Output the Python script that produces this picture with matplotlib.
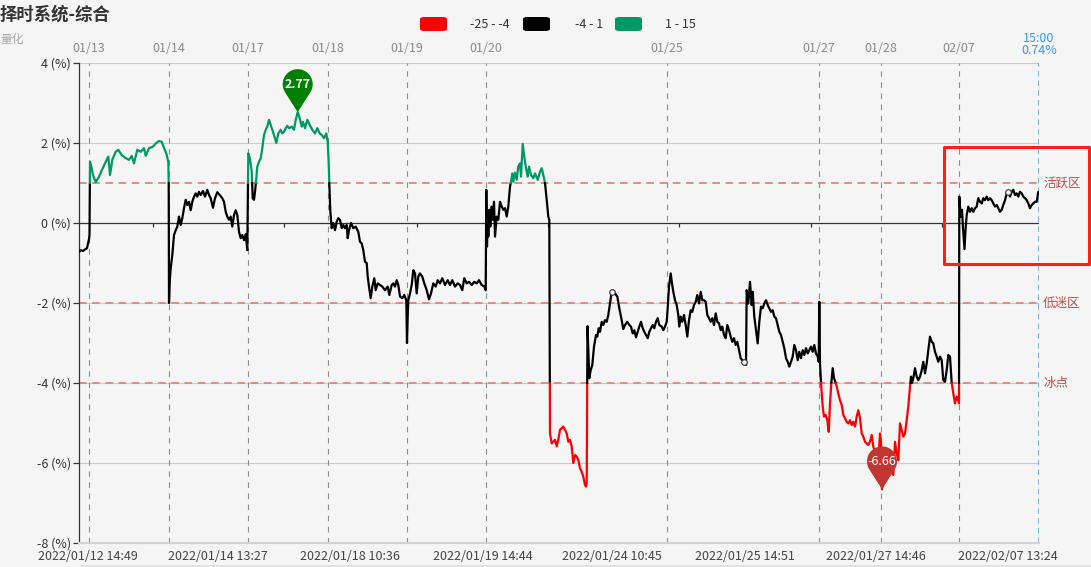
import numpy as np
import matplotlib
matplotlib.use("Agg")
import matplotlib.pyplot as plt
import matplotlib.transforms as mtransforms
from matplotlib.path import Path
from matplotlib.patches import PathPatch, Rectangle, FancyBboxPatch

plt.rcParams['font.family'] = ['Noto Sans CJK SC', 'DejaVu Sans']
plt.rcParams['lines.scale_dashes'] = False

# ---------------- data ----------------
title = "择时系统-综合"
unit_label = "量化"
legend_labels = ["-25 - -4", "-4 - 1", "1 - 15"]
legend_colors = ["#ff0000", "#000000", "#009966"]

idx = [0, 2, 4, 6, 8, 10, 10.5, 11, 12, 14, 16.7, 20, 23, 26.7, 29.3, 31, 33.3, 36.7, 39.3, 42.7,
       46.7, 50, 52.7, 55, 58.3, 61.7, 65, 66.7, 70, 74, 76.7, 80, 82.7, 85, 87.3, 89.3, 89.7, 90,
       90.7, 91.7, 93.3, 95, 96.7, 98.3, 100, 101.7, 103.3, 105, 106.7, 108.3, 110, 111.7, 113.3,
       115, 116.7, 118.3, 120, 121.7, 124, 126, 128.3, 130, 131.7, 134, 136, 138.3, 140.7, 143.3,
       145, 146.7, 148.3, 150, 151.7, 153.3, 155, 156.7, 158.3, 160, 161.7, 163.3, 165, 166.7,
       168.3, 169.3, 171, 172.7, 173.7, 175, 176, 177, 178.3, 180, 181.7, 183.3, 185, 186.7, 188.3,
       190, 191.7, 193.3, 195, 197.3, 199.3, 201.7, 203.3, 205, 206.7, 208.3, 210, 212.7, 215,
       216.7, 218.7, 220.7, 222.7, 224, 226, 228.3, 230.7, 233.3, 236, 238.3, 240.7, 242.7, 245,
       247.3, 248.7, 249.7, 250.3, 251.3, 252, 252.7, 254.3, 256, 257.7, 259.3, 261, 262.7, 264.3,
       266, 267.7, 268.7, 270, 272, 274.3, 276.7, 279.3, 281, 282.7, 284.3, 286, 287.7, 288.7, 290,
       291.7, 293.3, 295.3, 296.7, 298.7, 301, 303.3, 306, 308.7, 310.3, 312.7, 314.3, 316, 317.7,
       319.3, 321, 323.3, 325.3, 327.3, 328, 328.7, 329.3, 331, 332.7, 334.3, 336, 337.7, 339.3,
       341, 343.3, 345.3, 347.7, 350, 352, 354.3, 356.7, 358.7, 361, 363.3, 366, 368.7, 371,
       373.3, 376, 378.7, 381, 383.3, 385.3, 387.7, 390, 392.7, 395.3, 397.7, 400, 402.7, 405.3,
       406.7, 407.3, 408, 408.7, 409.3, 410.3, 411.3, 412.7, 413.7, 415, 416, 417.7, 419.3, 421,
       422.7, 424.3, 426, 427.7, 429.3, 431, 432, 433.3, 434.3, 436, 437.7, 439.3, 441, 442, 443.7,
       445.3, 447, 448.7, 450, 452, 454.3, 456, 458.7, 461, 462.7, 464.3, 466, 467.7, 469.3, 470.3,
       471, 472.7, 474.3, 476, 477.7, 479.3, 481, 482.7, 484.3, 486, 487.7, 489.3, 491, 492.7,
       494.3, 496, 497.7, 499.3, 501, 502.7, 504.3, 506, 507, 507.7, 508.5, 510.3, 511.7, 513.3,
       515, 517, 518.3, 519.7, 521, 522.7, 524.3, 526, 527.7, 529.3, 531, 532.7, 534.3, 536, 538.3,
       540.3, 542.7, 544.3, 546, 548.3, 550.3, 552, 553.7, 555.3, 557, 558.7, 560.3, 562, 563.7,
       565.3, 567, 568.7, 570.3, 572, 573.7, 575.3, 577, 578.7, 580.3, 582.7, 584.3, 586, 587.7,
       588.7, 590, 591.7, 593, 594.3, 596, 597.7, 599.3, 600.3, 601.7, 603.3, 605, 606.7, 608.3,
       610, 611.7, 613.3, 615, 616.7, 618.3, 620, 621.7, 623.3, 625, 626.7, 628.3, 630, 631.7,
       633.3, 635, 636.7, 638.3, 640, 641.7, 643.3, 645, 646.7, 648.3, 650, 651.7, 653.3, 655,
       656.7, 658.3, 660, 661.7, 663.3, 665, 667, 667.7, 669.3, 671, 672.7, 673.7, 675.3, 677,
       678.7, 680.3, 682, 683.7, 685.3, 687, 688.7, 690.3, 692, 693.7, 695.3, 697, 698.7, 700.3,
       702, 703.7, 705.3, 707, 708.7, 710.3, 712, 713.7, 715.3, 717, 718.7, 720.3, 722, 723.7,
       725.3, 727, 728.7, 730.3, 732, 733.7, 735.3, 737, 738.7, 739.7, 740.3, 741, 742, 743.7, 745,
       746.7, 748.3, 749.7, 751, 752.3, 753.7, 755, 756.3, 757.7, 759.3, 761, 762.7, 764.3, 766,
       767.7, 769.3, 771, 772.7, 774.3, 776, 777.7, 779.3, 781, 782.7, 784.3, 786, 787.7, 789.3,
       791, 792.7, 794.3, 796, 797.7, 799.3, 801, 802, 803, 804.3, 806, 807.7, 809.3, 811, 812.7,
       814.3, 816, 817.7, 819.3, 821, 822.7, 824.3, 826, 827.7, 829.3, 831, 832, 833, 834.3, 836,
       837.7, 839.3, 841, 842.7, 844.3, 846, 847.7, 849.3, 851, 852.7, 854.3, 856, 857.7, 859.3,
       861, 862.7, 864.3, 866, 867.7, 869.3, 871, 872.7, 874.3, 876, 877.7, 879.3, 880, 880.3,
       881.7, 883, 884, 885.5, 886.5, 887.7, 889.3, 891, 892.7, 894.3, 896, 897.7, 899.3, 901,
       902.7, 904.3, 906, 907.7, 909.3, 911, 912.7, 914.3, 916, 917.7, 919.3, 921, 922.7, 924.3,
       926, 927.7, 929.3, 931, 932.7, 934.3, 936, 937.7, 939.3, 941, 942.7, 944.3, 946, 947.7,
       949.3, 951, 952.7, 954.3, 956, 957.7, 959.3, 960]

val = [-0.72, -0.68, -0.70, -0.66, -0.63, -0.40, -0.30, 1.53, 1.45, 1.20, 1.02, 1.16, 1.33, 1.53,
       1.66, 1.20, 1.58, 1.78, 1.83, 1.70, 1.62, 1.58, 1.68, 1.49, 1.83, 1.78, 1.87, 1.68, 1.87,
       1.91, 1.99, 2.05, 2.03, 1.88, 1.74, 1.53, 1.00, -2.00,
       -1.47, -1.13, -0.80, -0.30, -0.18, -0.09, 0.16, -0.05, 0.12, 0.37, 0.58, 0.45, 0.53, 0.32,
       0.53, 0.66, 0.74, 0.66, 0.78, 0.70, 0.80, 0.66, 0.83, 0.70, 0.62, 0.38, 0.62, 0.77, 0.70,
       0.62, 0.53, 0.28, 0.16, 0.08, 0.16, -0.09, 0.20, 0.32, 0.20, -0.22, -0.38, -0.30, -0.43,
       -0.28, -0.68, 1.74, 1.60, 1.30, 0.62, 0.58, 0.78, 1.03, 1.41, 1.53, 1.62, 1.87, 2.20, 2.33,
       2.41, 2.58, 2.45, 2.33, 2.20, 2.00, 2.24, 2.33, 2.24, 2.28, 2.37, 2.43, 2.37, 2.41, 2.33,
       2.58, 2.77, 2.62, 2.41, 2.53, 2.37, 2.58, 2.45, 2.33, 2.24, 2.37, 2.24, 2.20, 2.12,
       2.24, 2.03, 1.50, 1.00, 0.30, 0.08, -0.13, 0.00, -0.18, 0.03, 0.12, 0.08, -0.13, -0.05,
       -0.13, -0.05, -0.38, -0.18, 0.00, -0.13, -0.09, -0.22, -0.47, -0.51, -0.68, -0.97, -1.00,
       -1.34, -1.59, -1.88, -1.59, -1.38, -1.68, -1.51, -1.55, -1.59, -1.68, -1.59, -1.80, -1.55,
       -1.51, -1.59, -1.43, -1.55, -1.84, -1.88, -1.80, -1.93, -3.00, -2.34, -1.93, -1.76, -1.55,
       -1.18, -1.26, -1.76, -1.34, -1.26, -1.34, -1.51, -1.68, -1.91, -1.76, -1.51, -1.59, -1.43,
       -1.51, -1.38, -1.55, -1.43, -1.55, -1.43, -1.59, -1.51, -1.55, -1.68, -1.38, -1.51, -1.47,
       -1.55, -1.47, -1.51, -1.43, -1.55, -1.59, -1.68, 0.83, -0.59, 0.16, -0.34, 0.33, -0.09,
       0.41, 0.08, 0.53, -0.34, 0.16, 0.08, 0.53, 0.41, 0.33, 0.37, 0.16, 0.41, 0.91, 1.03, 1.24,
       1.03, 1.26, 1.08, 1.41, 1.49, 1.16, 1.98, 1.66, 1.37, 1.16, 1.41, 1.20, 1.12, 1.24, 1.08,
       1.28, 1.37, 1.20, 1.00, 0.58, 0.16, 0.08,
       -5.26, -5.51, -5.47, -5.42, -5.58, -5.42, -5.17, -5.13, -5.09, -5.17, -5.26, -5.47, -5.42,
       -5.59, -6.00, -5.80, -5.84, -5.92, -6.13, -6.22, -6.34, -6.55, -6.59, -6.50, -2.58, -3.88,
       -3.68, -3.55, -3.09, -2.80, -2.84, -2.63, -2.72, -2.47, -2.55, -2.43, -2.47, -2.30, -2.01,
       -1.72, -1.69, -1.76, -1.84, -2.13, -2.43, -2.65, -2.55, -2.47, -2.55, -2.59, -2.76, -2.68,
       -2.86, -2.72, -2.59, -2.47, -2.63, -2.72, -2.80, -2.88, -2.72, -2.63, -2.55, -2.63, -2.47,
       -2.38, -2.55, -2.59, -2.68, -2.59, -2.47, -2.13, -1.59, -1.26, -1.51, -1.72, -1.93, -2.05,
       -2.30, -2.59, -2.34, -2.47, -2.30, -2.55, -2.84, -2.43, -2.18, -2.22, -2.05, -1.97, -1.80,
       -2.01, -1.72, -1.93, -1.93, -1.97, -2.30, -2.38, -2.47, -2.38, -2.55, -2.26, -2.47, -2.51,
       -2.68, -2.59, -2.80, -2.88, -2.55, -2.68, -2.84, -2.97, -2.88, -3.05, -2.97, -3.18, -3.38,
       -3.43, -3.47, -3.55, -1.68, -2.01, -1.47, -2.05, -1.72, -2.34, -2.68, -3.01, -2.47, -2.09,
       -2.13, -2.01, -1.93, -2.05, -2.13, -2.22, -2.18, -2.34, -2.38, -2.55, -2.72, -2.80, -2.97,
       -3.13, -3.38, -3.47, -3.59, -3.47, -3.34, -3.05, -3.18, -3.43, -3.22, -3.38, -3.18, -3.30,
       -3.13, -3.26, -3.18, -3.09, -3.22, -3.05, -3.26, -3.34, -3.47, -1.97, -3.51, -4.00, -4.59,
       -4.84, -4.80, -4.93, -5.22, -4.51, -4.00, -3.63, -3.88, -3.97, -4.09, -4.26, -4.43, -4.55,
       -4.80, -4.88, -4.97, -5.01, -4.93, -5.05, -4.97, -5.09, -4.84, -4.68, -4.88, -5.26, -5.34,
       -5.47, -5.51, -5.55, -5.47, -5.30, -5.59, -5.72, -5.84, -5.93, -5.26, -5.51, -6.66, -6.09,
       -5.93, -6.01, -5.84, -6.01, -6.18, -6.30, -5.47, -5.76, -5.93, -5.01, -5.18, -5.34, -5.26,
       -4.93, -4.59, -4.09, -3.84, -4.00, -3.88, -3.63, -3.84, -3.93, -3.84, -3.68, -3.47, -3.76,
       -3.51, -3.18, -2.84, -2.97, -3.01, -3.22, -3.34, -3.47, -3.34, -3.43, -3.93, -3.97, -3.68,
       -3.30, -3.34, -4.00, -4.26, -4.51, -4.34, -4.43, -4.51, 0.66, 0.16, 0.33, -0.13, -0.65,
       -0.18, 0.20, 0.41, 0.28, 0.37, 0.28, 0.37, 0.41, 0.62, 0.53, 0.49, 0.62, 0.57, 0.66, 0.57,
       0.62, 0.57, 0.49, 0.41, 0.45, 0.37, 0.28, 0.33, 0.45, 0.57, 0.74, 0.78, 0.66, 0.78, 0.83,
       0.70, 0.74, 0.66, 0.78, 0.74, 0.66, 0.62, 0.57, 0.49, 0.37, 0.45, 0.49, 0.53, 0.53, 0.78,
       0.74]

day_open_idx = [10, 90, 169, 249, 328, 407, 588, 740, 802, 880]
day_labels = ["01/13", "01/14", "01/17", "01/18", "01/19", "01/20", "01/25", "01/27", "01/28", "02/07"]

bottom_idx = [9, 139, 271, 404, 533, 666, 797, 929]
bottom_labels = ["2022/01/12 14:49", "2022/01/14 13:27", "2022/01/18 10:36", "2022/01/19 14:44",
                 "2022/01/24 10:45", "2022/01/25 14:51", "2022/01/27 14:46", "2022/02/07 13:24"]
symbol_idx = [533, 666, 929]

zone_levels = [1, -2, -4]
zone_labels = ["活跃区", "低迷区", "冰点"]
last_time = "15:00"

# ---------------- figure ----------------
W, H = 1091, 567
BG = "#f5f5f5"
fig = plt.figure(figsize=(W / 100, H / 100), dpi=100, facecolor=BG)
ax = fig.add_axes([79 / W, 24 / H, 960 / W, 480 / H])
ax.set_facecolor(BG)

x = np.array(idx, dtype=float)
y = np.array(val, dtype=float)
ax.set_xlim(0, x[-1])
ax.set_ylim(-8, 4)

# grid
for g in [4, 2, -2, -4, -6]:
    ax.axhline(g, color="#cccccc", lw=0.8, zorder=1)
ax.axhline(0, color="#333333", lw=0.9, zorder=2)

# vertical dashed day lines
ax.vlines(day_open_idx, -8, 4, colors="#8c8c8c", lw=0.8, linestyles=(0, (4, 4)), zorder=1)

# zone mark lines
for lv, lab in zip(zone_levels, zone_labels):
    ax.axhline(lv, color="#d98883", lw=1.3, linestyle=(0, (5.5, 4)), zorder=2)
    ax.text(x[-1] + 4, lv, lab, color="#cd4a45", fontsize=9, va="center", ha="left", clip_on=False)

# last point marker line
ax.axvline(x[-1], color="#4da3ff", lw=1.1, linestyle=(0, (4, 3)), zorder=2)

# colored line (visualMap style split at thresholds)
def color_of(v):
    if v < -4:
        return legend_colors[0]
    if v > 1:
        return legend_colors[2]
    return legend_colors[1]

runs = []
for i in range(len(x) - 1):
    x0, y0, x1, y1 = x[i], y[i], x[i + 1], y[i + 1]
    ts = [0.0, 1.0]
    for th in (1.0, -4.0):
        if (y0 - th) * (y1 - th) < 0:
            ts.append((th - y0) / (y1 - y0))
    ts.sort()
    for a, b in zip(ts[:-1], ts[1:]):
        pa = (x0 + a * (x1 - x0), y0 + a * (y1 - y0))
        pb = (x0 + b * (x1 - x0), y0 + b * (y1 - y0))
        c = color_of((pa[1] + pb[1]) / 2)
        if runs and runs[-1][0] == c:
            runs[-1][1].append(pb)
        else:
            runs.append([c, [pa, pb]])
for c, pts in runs:
    px, py = zip(*pts)
    ax.plot(px, py, color=c, lw=1.6, solid_joinstyle="round", solid_capstyle="round", zorder=4)

# small hollow symbols at some labelled categories
for b in symbol_idx:
    j = int(np.argmin(np.abs(x - b)))
    ax.plot(x[j], y[j], "o", ms=4, mfc=BG, mec="#333333", mew=0.8, zorder=5)

# spines / ticks
for s in ["top", "right"]:
    ax.spines[s].set_visible(False)
ax.spines["left"].set_color("#333333")
ax.spines["left"].set_linewidth(0.9)
ax.spines["bottom"].set_color("#d3d3d3")
ax.spines["bottom"].set_linewidth(1.6)
ax.set_xticks([])
yt = [4, 2, 0, -2, -4, -6, -8]
ax.set_yticks(yt)
ax.set_yticklabels([f"{v} (%)" for v in yt])
ax.tick_params(axis="y", length=4, width=0.9, color="#333333", labelcolor="#333333",
               labelsize=9, pad=2)

# zero-axis small ticks between labels
mids = [(a + b) / 2 for a, b in zip(bottom_idx[:-1], bottom_idx[1:])]
ax.vlines(mids, -0.1, 0, colors="#333333", lw=0.9, zorder=3)

# top day labels
for d, lab in zip(day_open_idx, day_labels):
    ax.text(d, 4.35, lab, ha="center", va="center", fontsize=9, color="#8a8a8a", clip_on=False)
ax.text(x[-1], 4.62, last_time, ha="center", va="center", fontsize=9, color="#3399ff", clip_on=False)
ax.text(x[-1], 4.32, f"{y[-1]:.2f}%", ha="center", va="center", fontsize=9, color="#3399ff",
        clip_on=False)

# bottom labels
for b, lab in zip(bottom_idx, bottom_labels):
    ax.text(b, -8.33, lab, ha="center", va="center", fontsize=9, color="#444444", clip_on=False)

# pins (max / min)
def pin(xd, yd, color, label, bold):
    r, d = 15.0, 28.0
    alpha = np.arccos(r / d)
    angs = np.linspace(-(np.pi / 2 - alpha), np.pi + (np.pi / 2 - alpha), 80)
    verts = [(0, 0)] + [(r * np.cos(a), d + r * np.sin(a)) for a in angs] + [(0, 0)]
    codes = [Path.MOVETO] + [Path.LINETO] * (len(verts) - 2) + [Path.CLOSEPOLY]
    tr = mtransforms.Affine2D().scale(fig.dpi / 100.0) + \
        mtransforms.ScaledTranslation(xd, yd, ax.transData)
    patch = PathPatch(Path(verts, codes), facecolor=color, edgecolor="none", transform=tr,
                      zorder=8, clip_on=False)
    ax.add_patch(patch)
    ax.annotate(label, xy=(xd, yd), xytext=(0, d * 0.72), textcoords="offset points",
                ha="center", va="center", color="white", fontsize=9,
                fontweight="bold" if bold else "normal", zorder=9)

jmax = int(np.argmax(y))
jmin = int(np.argmin(y))
pin(x[jmax], y[jmax], "#008000", f"{y[jmax]:.2f}", True)
pin(x[jmin], y[jmin], "#c23531", f"{y[jmin]:.2f}", False)

# red highlight rectangle
rect = Rectangle((865, -1.03), 145, 2.93, fill=False, edgecolor="#ff1f1a", lw=2.2,
                 joinstyle="round", clip_on=False, zorder=7)
ax.add_patch(rect)

# title and unit
fig.text(0 / W, 1 - 15 / H, title, fontsize=12.5, fontweight="bold", color="#333333",
         ha="left", va="center")
fig.text(0 / W, 1 - 40 / H, unit_label, fontsize=8.5, color="#aaaaaa", ha="left", va="center")

# legend
box_x = [420, 523, 615]
text_x = [470, 575, 665]
for bx, tx, c, lab in zip(box_x, text_x, legend_colors, legend_labels):
    fig.patches.append(FancyBboxPatch((bx / W, 1 - 31 / H), 27 / W, 14 / H,
                                      boxstyle="round,pad=0,rounding_size=0.004",
                                      transform=fig.transFigure, facecolor=c, edgecolor="none"))
    fig.text(tx / W, 1 - 24 / H, lab, fontsize=9, color="#333333", ha="left", va="center")

# faint bottom border line
fig.add_artist(plt.Line2D([81 / W, 1.0], [1.5 / H, 1.5 / H], color="#dddddd", lw=1.2))

fig.savefig("out.png", dpi=100, facecolor=BG)
